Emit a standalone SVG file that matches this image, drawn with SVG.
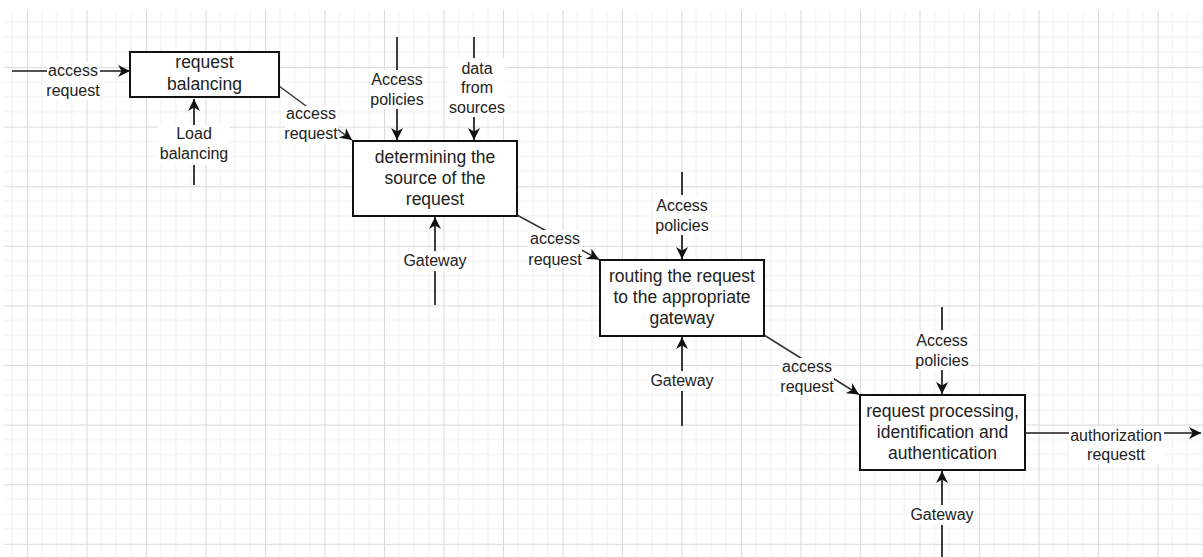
<svg xmlns="http://www.w3.org/2000/svg" width="1203" height="557" viewBox="0 0 1203 557">
<style>
.box{fill:#fff;stroke:#111;stroke-width:2}
.bt{font-family:"Liberation Sans",Arial,sans-serif;font-size:17.5px;fill:#222;text-anchor:middle}
.lt{font-family:"Liberation Sans",Arial,sans-serif;font-size:16px;fill:#222;text-anchor:middle}
.ln{stroke:#1a1a1a;stroke-width:1.7;fill:none}
.dg{stroke:#333;stroke-width:1.5;fill:none}
.bg{fill:#fff}
.mj{stroke:#dadada;stroke-width:1}
.mn{stroke:#efefef;stroke-width:1}
</style>
<defs>
<marker id="arr" markerUnits="userSpaceOnUse" markerWidth="12" markerHeight="12" refX="10" refY="5" orient="auto" viewBox="0 0 10 10">
<path d="M0,0 L10,5 L0,10 L3,5 Z" fill="#111"/>
</marker>
<pattern id="grid" patternUnits="userSpaceOnUse" x="27" y="7.4" width="59.5" height="59.6">
<path class="mn" d="M14.9,0V59.6M29.75,0V59.6M44.6,0V59.6M0,14.9H59.5M0,29.8H59.5M0,44.7H59.5"/>
<path class="mj" d="M0.5,0V59.6M0,0.5H59.5"/>
</pattern>
</defs>
<rect width="1203" height="557" fill="#fff"/>
<rect x="4" y="10" width="1199" height="547" fill="url(#grid)"/>

<g id="connectors">
<g id="c-in">
<line class="ln" x1="12" y1="71" x2="130" y2="71" marker-end="url(#arr)"/>
<rect class="bg" x="47" y="62" width="53" height="38"/>
<text class="lt" x="73" y="76">access</text>
<text class="lt" x="73" y="96">request</text>
</g>
<g id="c-load">
<line class="ln" x1="194" y1="185" x2="194" y2="99" marker-end="url(#arr)"/>
<rect class="bg" x="158" y="125" width="71" height="40"/>
<text class="lt" x="194" y="139">Load</text>
<text class="lt" x="194" y="159">balancing</text>
</g>
<g id="c-1-2">
<line class="dg" x1="279" y1="86" x2="352" y2="140" marker-end="url(#arr)"/>
<rect class="bg" x="285" y="106" width="53" height="38"/>
<text class="lt" x="311" y="119">access</text>
<text class="lt" x="311" y="139">request</text>
</g>
<g id="c-ap2">
<line class="ln" x1="397" y1="37" x2="397" y2="140" marker-end="url(#arr)"/>
<rect class="bg" x="370" y="70" width="55" height="39"/>
<text class="lt" x="397" y="84.5">Access</text>
<text class="lt" x="397" y="104.5">policies</text>
</g>
<g id="c-data">
<line class="ln" x1="474" y1="37" x2="474" y2="140" marker-end="url(#arr)"/>
<rect class="bg" x="448" y="58" width="58" height="59"/>
<text class="lt" x="477" y="73.5">data</text>
<text class="lt" x="477" y="93">from</text>
<text class="lt" x="477" y="112.5">sources</text>
</g>
<g id="c-gw2">
<line class="ln" x1="435" y1="305" x2="435" y2="217" marker-end="url(#arr)"/>
<rect class="bg" x="402" y="251" width="66" height="20"/>
<text class="lt" x="435" y="265.5">Gateway</text>
</g>
<g id="c-2-3">
<line class="dg" x1="517" y1="215" x2="599" y2="259.5" marker-end="url(#arr)"/>
<rect class="bg" x="528" y="230" width="54" height="38"/>
<text class="lt" x="555" y="244">access</text>
<text class="lt" x="555" y="265">request</text>
</g>
<g id="c-ap3">
<line class="ln" x1="682" y1="172" x2="682" y2="259" marker-end="url(#arr)"/>
<rect class="bg" x="655" y="195" width="55" height="40"/>
<text class="lt" x="682" y="210.5">Access</text>
<text class="lt" x="682" y="230.5">policies</text>
</g>
<g id="c-gw3">
<line class="ln" x1="682" y1="426" x2="682" y2="337" marker-end="url(#arr)"/>
<rect class="bg" x="649" y="371" width="66" height="20"/>
<text class="lt" x="682" y="385.5">Gateway</text>
</g>
<g id="c-3-4">
<line class="dg" x1="764" y1="335" x2="859" y2="394.5" marker-end="url(#arr)"/>
<rect class="bg" x="780" y="358" width="54" height="38"/>
<text class="lt" x="807" y="372">access</text>
<text class="lt" x="807" y="392">request</text>
</g>
<g id="c-ap4">
<line class="ln" x1="942" y1="307" x2="942" y2="394" marker-end="url(#arr)"/>
<rect class="bg" x="915" y="330" width="55" height="40"/>
<text class="lt" x="942" y="345.5">Access</text>
<text class="lt" x="942" y="365.5">policies</text>
</g>
<g id="c-gw4">
<line class="ln" x1="942" y1="557" x2="942" y2="471" marker-end="url(#arr)"/>
<rect class="bg" x="909" y="505" width="66" height="20"/>
<text class="lt" x="942" y="519.5">Gateway</text>
</g>
<g id="c-out">
<line class="ln" x1="1026" y1="433" x2="1201" y2="433" marker-end="url(#arr)"/>
<rect class="bg" x="1069" y="426" width="95" height="38"/>
<text class="lt" x="1116" y="440.5">authorization</text>
<text class="lt" x="1116" y="460">requestt</text>
</g>
</g>

<g id="n1">
<rect class="box" x="130" y="52" width="149" height="45"/>
<text class="bt" x="204.5" y="68">request</text>
<text class="bt" x="204.5" y="90">balancing</text>
</g>
<g id="n2">
<rect class="box" x="353" y="141" width="164" height="75"/>
<text class="bt" x="435" y="163">determining the</text>
<text class="bt" x="435" y="184">source of the</text>
<text class="bt" x="435" y="205">request</text>
</g>
<g id="n3">
<rect class="box" x="600" y="260" width="164" height="76"/>
<text class="bt" x="682" y="282">routing the request</text>
<text class="bt" x="682" y="303">to the appropriate</text>
<text class="bt" x="682" y="324">gateway</text>
</g>
<g id="n4">
<rect class="box" x="860" y="395" width="165" height="75"/>
<text class="bt" x="942.5" y="417">request processing,</text>
<text class="bt" x="942.5" y="438">identification and</text>
<text class="bt" x="942.5" y="459">authentication</text>
</g>
</svg>
